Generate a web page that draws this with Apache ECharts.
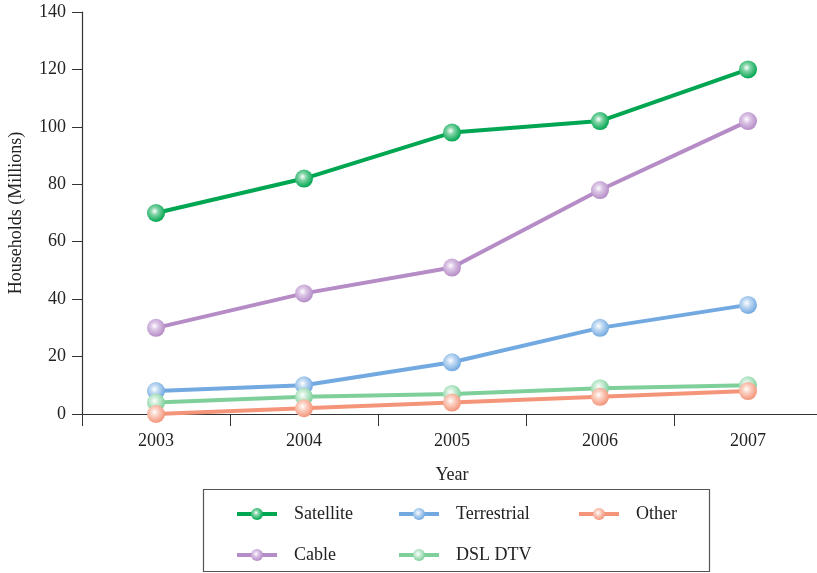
<!DOCTYPE html>
<html>
<head>
<meta charset="utf-8">
<script src="https://cdn.jsdelivr.net/npm/echarts@6/dist/echarts.min.js"></script>
<style>
  html, body { margin: 0; padding: 0; background: #fff; }
  #chart { width: 817px; height: 573px; }
</style>
</head>
<body>
<div id="chart"></div>
<script>
// data
const years = ['2003', '2004', '2005', '2006', '2007']
const satellite = [70, 82, 98, 102, 120]
const cable = [30, 42, 51, 78, 102]
const terrestrial = [8, 10, 18, 30, 38]
const dslDtv = [4, 6, 7, 9, 10]
const other = [0, 2, 4, 6, 8]

const FONT = 'Liberation Serif'

// sphere look for the markers
function ball (base, light) {
  return new echarts.graphic.RadialGradient(0.42, 0.4, 0.6, [
    { offset: 0, color: '#ffffff' },
    { offset: 0.35, color: light },
    { offset: 1, color: base }
  ])
}

function makeSeries (name, data, base, light) {
  return {
    name: name,
    type: 'line',
    data: data,
    symbol: 'circle',
    symbolSize: 18,
    lineStyle: { color: base, width: 4 },
    itemStyle: { color: ball(base, light) },
    emphasis: { disabled: true }
  }
}

let myChart = echarts.init(document.getElementById('chart'))

// one legend per entry so the 3 columns line up like the original
function legendItem (name, left, top) {
  return {
    orient: 'horizontal',
    left: left,
    top: top,
    itemWidth: 40,
    itemHeight: 15,
    lineStyle: { width: 4 },
    textStyle: { fontFamily: FONT, fontSize: 18, color: '#222', padding: [0, 0, 0, 12] },
    data: [name],
    selectedMode: false
  }
}

myChart.setOption({
  animation: false,
  backgroundColor: '#fff',
  grid: { left: 82, right: -5, top: 12, bottom: 159, outerBoundsMode: 'none' },
  xAxis: {
    type: 'category',
    data: years,
    boundaryGap: true,
    name: 'Year',
    nameLocation: 'middle',
    nameGap: 52,
    nameTextStyle: { fontFamily: FONT, fontSize: 18, color: '#222' },
    axisLine: { lineStyle: { color: '#333', width: 1.2 } },
    axisTick: { show: true, length: 12, lineStyle: { color: '#333' } },
    axisLabel: { fontFamily: FONT, fontSize: 18, color: '#222', margin: 18 }
  },
  yAxis: {
    type: 'value',
    min: 0,
    max: 140,
    interval: 20,
    name: 'Households (Millions)',
    nameLocation: 'middle',
    nameGap: 57,
    nameTextStyle: { fontFamily: FONT, fontSize: 18, color: '#222' },
    axisLine: { show: true, lineStyle: { color: '#333', width: 1.2 } },
    axisTick: { show: true, length: 10, lineStyle: { color: '#333' } },
    axisLabel: { fontFamily: FONT, fontSize: 18, color: '#222', margin: 16 },
    splitLine: { show: false }
  },
  legend: [
    legendItem('Satellite', 230, 500),
    legendItem('Cable', 230, 541),
    legendItem('Terrestrial', 392, 500),
    legendItem('DSL DTV', 392, 541),
    legendItem('Other', 572, 500)
  ],
  // legend frame
  graphic: [{
    type: 'rect',
    shape: { x: 203.5, y: 489.5, width: 506, height: 82 },
    style: { fill: 'none', stroke: '#555', lineWidth: 1.2 },
    silent: true
  }],
  series: [
    makeSeries('Satellite', satellite, '#00a651', '#7fd3a5'),
    makeSeries('Cable', cable, '#b58cc6', '#dcc6e6'),
    makeSeries('Terrestrial', terrestrial, '#72a9e0', '#c3dbf3'),
    makeSeries('DSL DTV', dslDtv, '#7fcf9b', '#cdeed9'),
    makeSeries('Other', other, '#f4957a', '#fbd2c4')
  ]
})
</script>
</body>
</html>
